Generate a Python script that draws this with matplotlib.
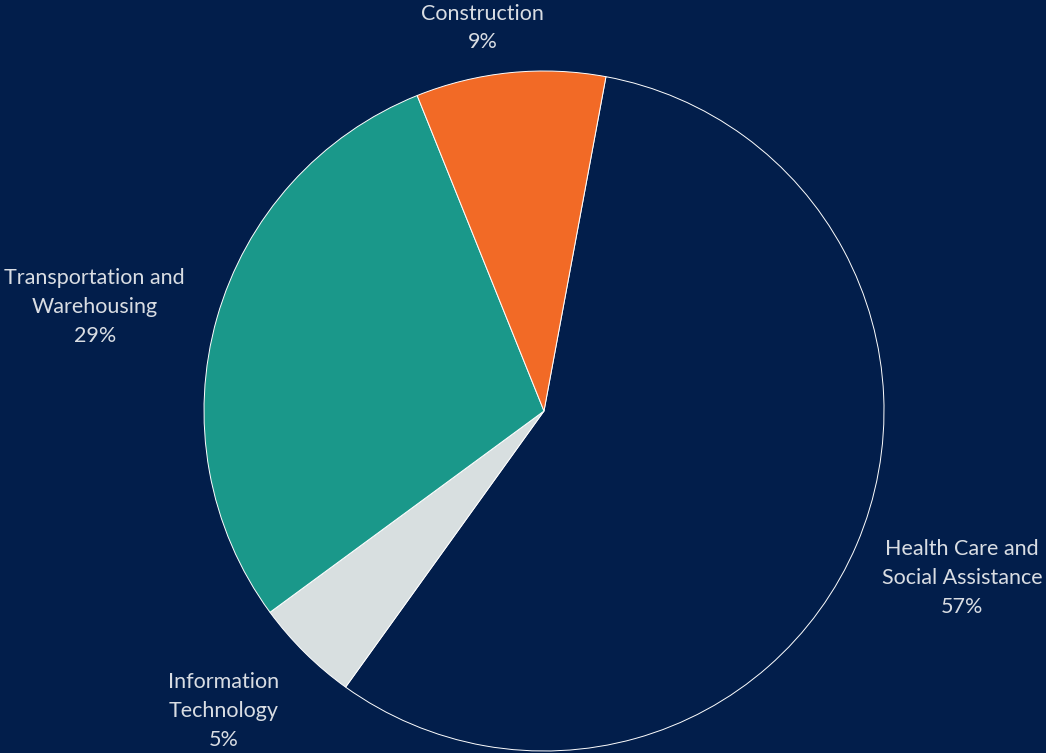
import matplotlib
matplotlib.use("Agg")
import matplotlib.pyplot as plt
import numpy as np

categories = ["Health Care and\nSocial Assistance", "Information\nTechnology",
              "Transportation and\nWarehousing", "Construction"]
values = [57, 5, 29, 9]
colors = ["#021E4B", "#D8DFE0", "#1A988A", "#F26A26"]
# label placement: radial distance and clockwise angle offset (deg) from wedge middle
label_dist = [1.324, 1.292, 1.356, 1.141]
label_off = [-1.3, 2.2, -2.9, -3.4]

bg = "#021E4B"
fig = plt.figure(figsize=(10.46, 7.53), dpi=100, facecolor=bg)
ax = fig.add_axes([0, 0, 1, 1])
ax.set_facecolor(bg)

wedges, texts = ax.pie(values, colors=colors, startangle=79.5, counterclock=False,
                       labels=[f"{c}\n{v}%" for c, v in zip(categories, values)],
                       labeldistance=1.3,
                       wedgeprops=dict(edgecolor="white", linewidth=0.7),
                       textprops=dict(color="#D9DDE3", fontsize=15.5, family="Lato",
                                      linespacing=1.55))

for w, t, d, o in zip(wedges, texts, label_dist, label_off):
    ang = np.deg2rad((w.theta1 + w.theta2) / 2 - o)
    t.set_position((d * np.cos(ang), d * np.sin(ang)))
    t.set_ha("center")
    t.set_va("center")
    t.set_multialignment("center")

cx, cy, r = 544, 411, 340
W, H = 1046, 753
ax.set_aspect("auto")
ax.set_xlim(-cx / r, (W - cx) / r)
ax.set_ylim(-(H - cy) / r, cy / r)
ax.axis("off")

fig.savefig("out.png", dpi=100, facecolor=bg)
